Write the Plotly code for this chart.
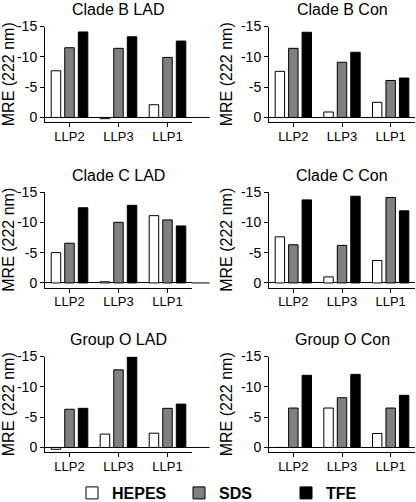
import plotly.graph_objects as go

categories = ["LLP2", "LLP3", "LLP1"]
panel_titles = ["Clade B LAD", "Clade B Con", "Clade C LAD", "Clade C Con", "Group O LAD", "Group O Con"]
hepes = [[-7.7, 0.2, -2.1], [-7.6, -0.9, -2.5], [-5.0, -0.2, -11.1],
         [-7.6, -1.0, -3.7], [0.3, -2.2, -2.35], [0.0, -6.5, -2.3]]
sds = [[-11.5, -11.4, -9.9], [-11.4, -9.1, -6.1], [-6.55, -10.0, -10.4],
       [-6.3, -6.2, -14.1], [-6.3, -12.8, -6.45], [-6.5, -8.2, -6.5]]
tfe = [[-14.1, -13.3, -12.6], [-14.05, -10.75, -6.5], [-12.4, -12.8, -9.4],
       [-13.7, -14.3, -11.9], [-6.45, -14.9, -7.15], [-11.9, -12.05, -8.6]]
y_tick_vals = [-15, -10, -5, 0]
y_tick_text = ["-15", "-10", "-5", "0"]
series_names = ["HEPES", "SDS", "TFE"]
series_colors = ["#ffffff", "#808080", "#000000"]

W, H = 416, 502
FONT = "Liberation Sans, Arial, Helvetica, sans-serif"

col_x = [(45, 192), (269, 415)]
row_top = [26.5, 192, 356.5]
plot_h = 95.5

fig = go.Figure()
layout = dict(
    width=W, height=H, autosize=False,
    margin=dict(l=0, r=0, t=0, b=0, autoexpand=False),
    plot_bgcolor="white", paper_bgcolor="white",
    barmode="group", bargap=0.17, bargroupgap=0.3,
    font=dict(family=FONT, size=13, color="black"),
    showlegend=True,
    legend=dict(orientation="h", xref="container", yref="container",
                x=72 / W, xanchor="left", y=(H - 493) / H, yanchor="middle",
                entrywidth=62, entrywidthmode="pixels",
                font=dict(family=FONT, size=16, color="black", weight="bold"),
                traceorder="normal", itemclick=False, itemdoubleclick=False),
)
annotations = []
shapes = []

for i, title in enumerate(panel_titles):
    r, c = divmod(i, 2)
    n = i + 1
    xa = "x" if n == 1 else f"x{n}"
    ya = "y" if n == 1 else f"y{n}"
    x0, x1 = col_x[c]
    top = row_top[r]
    bot = top + plot_h
    for s, (name, vals) in enumerate(zip(series_names, [hepes, sds, tfe])):
        fig.add_trace(go.Bar(
            x=categories, y=vals[i], name=name, xaxis=xa, yaxis=ya,
            marker=dict(color=series_colors[s], line=dict(color="black", width=1)),
            showlegend=(i == 0), legendgroup=name,
        ))
    layout["xaxis" + ("" if n == 1 else str(n))] = dict(
        domain=[x0 / W, x1 / W], anchor=ya, range=[-0.5, 2.5], automargin=False,
        showline=True, linecolor="black", linewidth=1,
        ticks="outside", ticklen=4, tickcolor="black", ticklabelstandoff=-2,
        tickfont=dict(size=13), showgrid=False, zeroline=False, fixedrange=True,
    )
    layout["yaxis" + ("" if n == 1 else str(n))] = dict(
        domain=[1 - bot / H, 1 - top / H], anchor=xa, range=[0.75, -15], automargin=False,
        tickvals=y_tick_vals, ticktext=y_tick_text,
        showline=True, linecolor="black", linewidth=1,
        ticks="outside", ticklen=4, tickcolor="black",
        tickfont=dict(size=14), showgrid=False,
        zeroline=True, zerolinecolor="black", zerolinewidth=1,
        title=dict(text="MRE (222 nm)", font=dict(size=16), standoff=4),
        fixedrange=True,
    )
    annotations.append(dict(
        text=title, xref="paper", yref="paper",
        x=(x0 + x1) / 2 / W, y=1 - (top - 17) / H,
        showarrow=False, xanchor="center", yanchor="middle",
        font=dict(size=16, family=FONT, color="black"),
    ))
    if c == 0:
        shapes.append(dict(type="line", xref=f"{xa} domain", yref=ya,
                           x0=1, x1=1.12, y0=0, y1=0,
                           line=dict(color="black", width=1)))

layout["annotations"] = annotations
layout["shapes"] = shapes
fig.update_layout(**layout)
fig.write_html("out.html", config={"displayModeBar": False, "responsive": False},
               post_script="document.body.style.margin='0';document.body.style.padding='0';"
                           "document.body.style.overflow='hidden';")
